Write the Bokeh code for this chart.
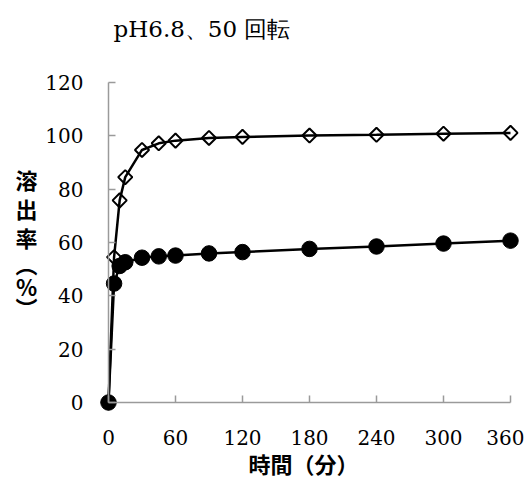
import math
from bokeh.plotting import figure
from bokeh.models import Range1d, Label, FixedTicker
from bokeh.embed import file_html
from bokeh.resources import INLINE

# --- data ---
time_min = [0, 5, 10, 15, 30, 45, 60, 90, 120, 180, 240, 300, 360]
diamond_series = [0, 54.5, 75.8, 84.5, 94.7, 97.2, 98.2, 99.2, 99.6, 100.1, 100.4, 100.8, 101.1]
circle_series = [0, 44.6, 51.2, 52.6, 54.3, 54.8, 55.1, 55.9, 56.4, 57.6, 58.5, 59.6, 60.7]
x_ticks = [0, 60, 120, 180, 240, 300, 360]
y_ticks = [0, 20, 40, 60, 80, 100, 120]
title_text = "pH6.8、50 回転"
x_label = "時間（分）"
y_label_chars = ["溶", "出", "率", "︵", "%", "︶"]

SERIF = "DejaVu Serif"
SANS_CJK = "Noto Sans CJK JP"

# layout (pixels): canvas size and where the axes box lies in it
W, H = 524, 478
AX_L, AX_R, AX_T, AX_B = 108, 510, 82, 402
XMIN, XMAX, YMIN, YMAX = 0, 360, 0, 120
sx = (AX_R - AX_L) / (XMAX - XMIN)
sy = (AX_B - AX_T) / (YMAX - YMIN)
x_range = Range1d(XMIN - AX_L / sx, XMAX + (W - AX_R) / sx)
y_range = Range1d(YMIN - (H - AX_B) / sy, YMAX + AX_T / sy)

p = figure(width=W, height=H, output_backend="svg", toolbar_location=None,
           x_range=x_range, y_range=y_range,
           min_border_left=0, min_border_right=0, min_border_top=0, min_border_bottom=0)

p.xgrid.visible = False
p.ygrid.visible = False
p.outline_line_color = None

axis_col = "#9a9a9a"
p.xaxis.fixed_location = 0
p.yaxis.fixed_location = 0
p.xaxis.bounds = (XMIN, XMAX)
p.yaxis.bounds = (YMIN, YMAX)
p.xaxis.ticker = FixedTicker(ticks=x_ticks)
p.yaxis.ticker = FixedTicker(ticks=y_ticks)
for ax in (p.xaxis, p.yaxis):
    ax.axis_line_color = axis_col
    ax.axis_line_width = 1.5
    ax.major_tick_line_color = axis_col
    ax.major_tick_line_width = 1.5
    ax.major_tick_in = 7
    ax.major_tick_out = 0
    ax.minor_tick_line_color = None
    ax.major_label_text_font = SERIF
    ax.major_label_text_font_size = "20px"
    ax.major_label_text_color = "black"
p.xaxis.major_label_standoff = 27
p.yaxis.major_label_standoff = 25

# series: diamonds (open)
p.scatter(time_min, diamond_series, marker="square", angle=math.pi / 4, size=10,
          fill_color=None, line_color="black", line_width=2)
p.line(time_min, diamond_series, line_color="black", line_width=2.5)
# series: filled circles
p.line(time_min, circle_series, line_color="black", line_width=2.5)
p.scatter(time_min, circle_series, marker="circle", size=15.5,
          fill_color="black", line_color="black")

# title
p.add_layout(Label(x=113, y=H - 28, x_units="screen", y_units="screen", text=title_text,
                   text_font=SERIF, text_font_size="23px", text_align="left",
                   text_baseline="middle", text_color="black"))
# x label
p.add_layout(Label(x=303, y=H - 462, x_units="screen", y_units="screen", text=x_label,
                   text_font=SANS_CJK, text_font_style="bold", text_font_size="22px",
                   text_align="center", text_baseline="middle", text_color="black"))
# y label (vertical, stacked characters)
y_centers = [178, 207, 236, 262, 285, 306]
for ch, yc in zip(y_label_chars, y_centers):
    p.add_layout(Label(x=26, y=H - yc, x_units="screen", y_units="screen", text=ch,
                       text_font=SANS_CJK, text_font_style="bold",
                       text_font_size="22px", text_align="center",
                       text_baseline="middle", text_color="black"))

open("out.html", "w").write(file_html(p, INLINE))
